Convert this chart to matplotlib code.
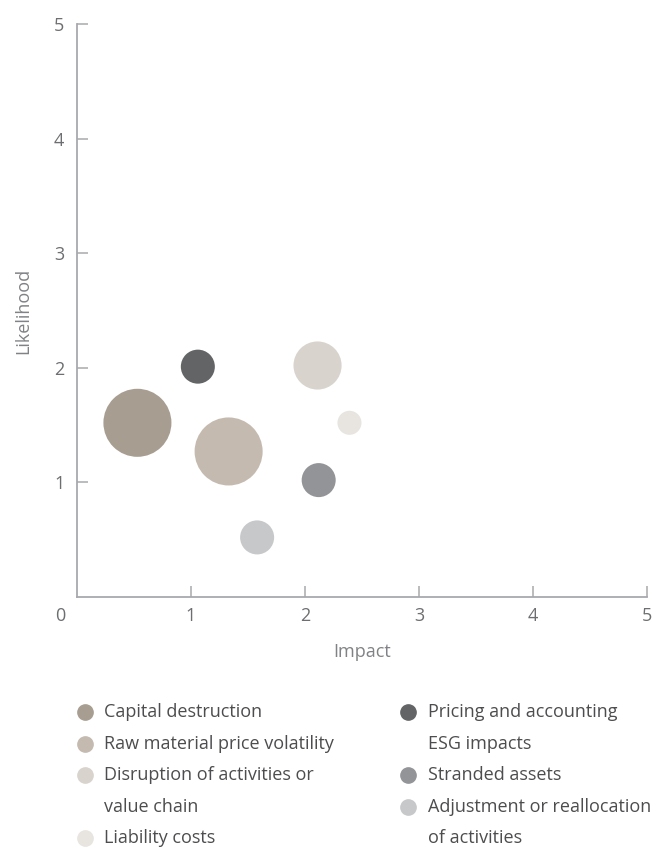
import matplotlib.pyplot as plt
from matplotlib.lines import Line2D
from matplotlib.transforms import ScaledTranslation

plt.rcParams['font.family'] = ['Open Sans', 'DejaVu Sans']

risks = ["Capital destruction", "Raw material price volatility",
         "Disruption of activities or\nvalue chain", "Liability costs",
         "Pricing and accounting\nESG impacts", "Stranded assets",
         "Adjustment or reallocation\nof activities"]
impact = [0.53, 1.33, 2.11, 2.39, 1.06, 2.12, 1.58]
likelihood = [1.52, 1.27, 2.02, 1.52, 2.01, 1.02, 0.52]
magnitude = [4, 4, 2, 0.5, 1, 1, 1]
colors = ["#a89d91", "#c4bab0", "#d8d3cd", "#e8e5e0",
          "#636466", "#939497", "#c7c8ca"]
ticks = [0, 1, 2, 3, 4, 5]

W, H = 653, 848
fig = plt.figure(figsize=(W / 100, H / 100), dpi=100)
ax = fig.add_axes([77 / W, 1 - 597 / H, 570 / W, 573 / H])

ax.scatter(impact, likelihood, s=[m * 600 for m in magnitude],
           c=colors, linewidths=0, zorder=3, clip_on=False)

ax.set_xlim(0, 5)
ax.set_ylim(0, 5)
for side in ["top", "right"]:
    ax.spines[side].set_visible(False)
for side in ["left", "bottom"]:
    ax.spines[side].set_color("#a7a9ac")
    ax.spines[side].set_linewidth(1.3)

ax.set_xticks(ticks)
ax.set_xticklabels([str(t) for t in ticks])
ax.set_yticks(ticks[1:])
ax.set_yticklabels([str(t) for t in ticks[1:]])
ax.tick_params(axis="both", direction="in", length=8, width=1.1,
               color="#a7a9ac", labelcolor="#6d6e71", labelsize=13)
ax.tick_params(axis="x", pad=7)
ax.tick_params(axis="y", pad=9)
# the origin label sits at the lower-left corner
zero = ax.get_xticklabels()[0]
zero.set_transform(zero.get_transform() +
                   ScaledTranslation(-17 / 100, 0, fig.dpi_scale_trans))
ax.xaxis.get_major_ticks()[0].tick1line.set_visible(False)

ax.set_xlabel("Impact", fontsize=13, color="#808285", labelpad=13)
ax.set_ylabel("Likelihood", fontsize=13, color="#808285", labelpad=16)

# legend in two columns
columns = [(range(0, 4), 85, 104), (range(4, 7), 408, 428)]
pitch = 31.6
for idx, mx, tx in columns:
    row = 0
    for i in idx:
        y = 1 - (712 + row * pitch) / H
        fig.add_artist(Line2D([mx / W], [y], marker="o", markersize=11,
                              color=colors[i], linestyle="none",
                              transform=fig.transFigure))
        for k, line in enumerate(risks[i].split("\n")):
            fig.text(tx / W, 1 - (712 + (row + k) * pitch) / H, line,
                     fontsize=13, color="#4d4d4f", va="center", ha="left")
        row += len(risks[i].split("\n"))

fig.savefig("out.png", dpi=100)
